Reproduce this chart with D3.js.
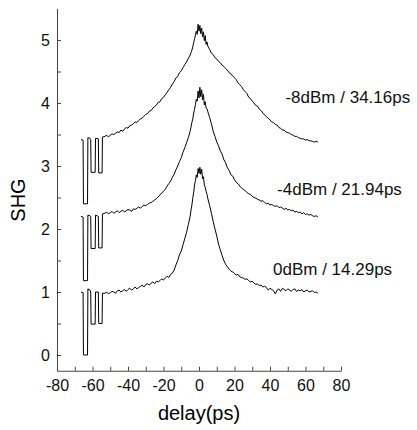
<!DOCTYPE html>
<html>
<head>
<script src="https://cdn.jsdelivr.net/npm/d3@7"></script>
<style>
  body { margin: 0; background: #fff; }
  text { font-family: "Liberation Sans", Arial, sans-serif; }
  .trace { fill: none; stroke: #000; stroke-width: 1px; stroke-linejoin: round; }
  .axis path, .axis line { stroke: #444; stroke-width: 1px; }
  .axis text { font-size: 16px; fill: #111; }
</style>
</head>
<body>
<div id="container"></div>
<script>
// delay positions (ps): the shutter notches, then the scan
const delay = [-66.5, -65.3, -65.1, -62.8, -62.6, -61.4, -61.0, -60.8, -58.5, -58.3, -56.7, -56.5, -54.6, -54.4,
  -53, -52, -51, -50, -49, -48, -47, -46, -45, -44, -43, -42, -41, -40, -39, -38, -37, -36, -35, -34, -33, -32, -31, -30,
  -29, -28, -27, -26, -25, -24, -23, -22, -21, -20, -19, -18, -17, -16, -15, -14, -13, -12, -11, -10, -9, -8, -7, -6, -5,
  -4.5, -4, -3.5, -3, -2.5, -2, -1.5, -1, -0.5, 0, 0.5, 1, 1.5, 2, 2.5, 3, 3.5, 4, 4.5,
  5, 6, 7, 8, 9, 10, 11, 12, 13, 14, 15, 16, 17, 18, 19, 20, 21, 22, 23, 24, 25, 26, 27, 28, 29, 30,
  31, 32, 33, 34, 35, 36, 37, 38, 39, 40, 41, 42, 43, 44, 45, 46, 47, 48, 49, 50,
  51, 52, 53, 54, 55, 56, 57, 58, 59, 60, 61, 62, 63, 64, 65, 66, 67];

// SHG signal, 0dBm (bottom trace)
const shg0dBm = [1.00, 0.99, 0.00, 0.00, 1.05, 1.03, 1.00, 0.49, 0.49, 1.00, 1.00, 0.50, 0.50, 0.98,
  0.98, 1.00, 0.97, 0.99, 1.01, 1.00, 0.98, 1.02, 1.03, 1.00, 1.02, 1.04, 1.01, 1.04, 1.06, 1.03, 1.05, 1.08, 1.05, 1.07, 1.09, 1.11, 1.08, 1.12,
  1.13, 1.11, 1.14, 1.16, 1.13, 1.17, 1.16, 1.18, 1.21, 1.19, 1.22, 1.25, 1.23, 1.28, 1.30, 1.35, 1.43, 1.50, 1.59, 1.65, 1.75, 1.85, 1.95, 2.07, 2.20,
  2.30, 2.38, 2.49, 2.58, 2.70, 2.77, 2.86, 2.82, 2.96, 2.88, 2.98, 2.87, 2.95, 2.80, 2.83, 2.70, 2.66, 2.60, 2.55,
  2.48, 2.37, 2.25, 2.12, 2.00, 1.89, 1.76, 1.67, 1.58, 1.50, 1.44, 1.40, 1.36, 1.33, 1.32, 1.29, 1.27, 1.28, 1.24, 1.23, 1.22, 1.20, 1.21, 1.18, 1.16, 1.17,
  1.14, 1.12, 1.13, 1.10, 1.11, 1.08, 1.09, 1.07, 1.03, 1.06, 1.04, 1.02, 0.97, 1.03, 1.05, 1.01, 1.06, 1.04, 1.02, 1.05,
  1.03, 1.01, 1.04, 1.05, 1.01, 1.03, 1.02, 1.04, 1.00, 1.02, 1.03, 1.00, 1.01, 1.02, 0.99, 1.00, 0.98];

// SHG signal, -4dBm (middle trace)
const shgM4dBm = [2.20, 2.19, 1.18, 1.18, 2.22, 2.21, 2.20, 1.69, 1.69, 2.22, 2.20, 1.70, 1.70, 2.24,
  2.25, 2.27, 2.24, 2.26, 2.28, 2.25, 2.27, 2.29, 2.26, 2.28, 2.30, 2.27, 2.29, 2.31, 2.30, 2.28, 2.32, 2.31, 2.33, 2.35, 2.33, 2.36, 2.38, 2.37,
  2.39, 2.41, 2.42, 2.44, 2.46, 2.48, 2.51, 2.54, 2.57, 2.60, 2.63, 2.68, 2.72, 2.76, 2.82, 2.87, 2.94, 3.00, 3.07, 3.13, 3.22, 3.29, 3.37, 3.45, 3.55,
  3.62, 3.69, 3.75, 3.84, 3.90, 3.98, 4.06, 4.03, 4.19, 4.08, 4.25, 4.10, 4.21, 4.05, 4.14, 3.97, 4.02, 3.92, 3.91,
  3.86, 3.77, 3.67, 3.55, 3.47, 3.38, 3.32, 3.24, 3.19, 3.10, 3.05, 2.97, 2.93, 2.86, 2.84, 2.78, 2.74, 2.72, 2.68, 2.65, 2.63, 2.61, 2.58, 2.56, 2.55, 2.52,
  2.50, 2.49, 2.47, 2.46, 2.44, 2.45, 2.42, 2.40, 2.41, 2.38, 2.39, 2.37, 2.36, 2.37, 2.34, 2.35, 2.33, 2.31, 2.33, 2.30,
  2.31, 2.29, 2.30, 2.27, 2.28, 2.26, 2.27, 2.24, 2.26, 2.23, 2.24, 2.22, 2.23, 2.21, 2.20, 2.21, 2.19];

// SHG signal, -8dBm (top trace)
const shgM8dBm = [3.42, 3.41, 2.40, 2.40, 3.45, 3.44, 3.42, 2.90, 2.90, 3.44, 3.43, 2.89, 2.89, 3.46,
  3.47, 3.49, 3.46, 3.49, 3.51, 3.50, 3.52, 3.54, 3.53, 3.57, 3.55, 3.59, 3.61, 3.60, 3.64, 3.65, 3.67, 3.70, 3.69, 3.72, 3.75, 3.76, 3.79, 3.82,
  3.83, 3.87, 3.88, 3.92, 3.94, 3.97, 4.01, 4.02, 4.07, 4.09, 4.13, 4.17, 4.21, 4.25, 4.30, 4.34, 4.40, 4.42, 4.48, 4.51, 4.56, 4.61, 4.65, 4.71, 4.76,
  4.80, 4.84, 4.89, 4.96, 5.02, 5.08, 5.14, 5.09, 5.25, 5.14, 5.23, 5.10, 5.19, 5.05, 5.13, 4.99, 5.07, 4.93, 4.97,
  4.90, 4.85, 4.79, 4.77, 4.72, 4.70, 4.66, 4.64, 4.60, 4.58, 4.55, 4.52, 4.48, 4.46, 4.43, 4.40, 4.37, 4.32, 4.29, 4.26, 4.21, 4.18, 4.15, 4.09, 4.07, 4.03,
  4.00, 3.96, 3.95, 3.90, 3.88, 3.84, 3.81, 3.78, 3.76, 3.73, 3.70, 3.69, 3.66, 3.65, 3.61, 3.60, 3.57, 3.57, 3.54, 3.53,
  3.52, 3.50, 3.49, 3.47, 3.47, 3.45, 3.44, 3.43, 3.43, 3.41, 3.42, 3.40, 3.40, 3.39, 3.38, 3.39, 3.38];

// labels next to each trace (data coordinates)
const labelText = ["-8dBm / 34.16ps", "-4dBm / 21.94ps", "0dBm / 14.29ps"];
const labelX = [48.7, 44.0, 41.7];
const labelY = [4.0, 2.54, 1.27];

const xTicks = [-80, -70, -60, -50, -40, -30, -20, -10, 0, 10, 20, 30, 40, 50, 60, 70, 80];
const yTicks = [0, 0.5, 1, 1.5, 2, 2.5, 3, 3.5, 4, 4.5, 5];

const W = 417, H = 430;
const svg = d3.select("#container").append("svg")
  .attr("width", W).attr("height", H);

const x = d3.scaleLinear().domain([-80, 80]).range([57, 341]);
const y = d3.scaleLinear().domain([-0.25, 5.5]).range([370.75, 8.5]);

// axes, ticks pointing inward
svg.append("g")
  .attr("class", "axis")
  .attr("transform", "translate(0," + y(-0.25) + ")")
  .call(d3.axisBottom(x).tickValues(xTicks).tickSizeInner(-4).tickSizeOuter(0).tickPadding(9)
    .tickFormat(function(d) { return d % 20 === 0 ? d : ""; }));

svg.append("g")
  .attr("class", "axis")
  .attr("transform", "translate(" + x(-80) + ",0)")
  .call(d3.axisLeft(y).tickValues(yTicks).tickSizeInner(-4).tickSizeOuter(0).tickPadding(7)
    .tickFormat(function(d) { return d % 1 === 0 ? d : ""; }));

// traces
const line = d3.line()
  .x(function(d) { return x(d[0]); })
  .y(function(d) { return y(d[1]); });

[shg0dBm, shgM4dBm, shgM8dBm].forEach(function(series) {
  svg.append("path")
    .datum(d3.zip(delay, series))
    .attr("class", "trace")
    .attr("d", line);
});

// trace labels
labelText.forEach(function(t, i) {
  svg.append("text")
    .attr("x", x(labelX[i]))
    .attr("y", y(labelY[i]))
    .style("font-size", "17px")
    .attr("fill", "#111")
    .text(t);
});

// axis titles
svg.append("text")
  .attr("transform", "translate(199,420)")
  .style("text-anchor", "middle")
  .style("font-size", "20px")
  .text("delay(ps)");

svg.append("text")
  .attr("transform", "translate(25,200) rotate(-90)")
  .style("text-anchor", "middle")
  .style("font-size", "20px")
  .text("SHG");
</script>
</body>
</html>
